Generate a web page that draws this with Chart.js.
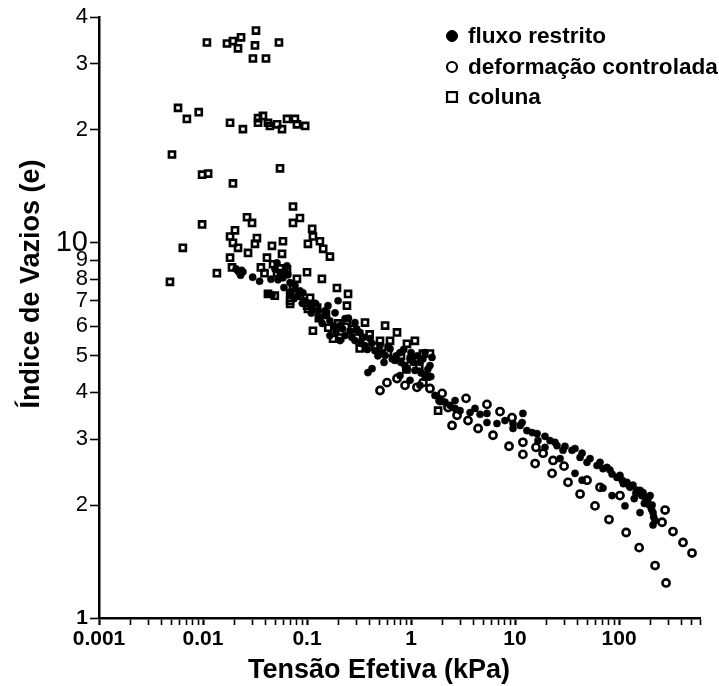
<!DOCTYPE html>
<html><head><meta charset="utf-8">
<script src="https://cdn.jsdelivr.net/npm/chart.js@4.4.1/dist/chart.umd.min.js"></script>
<style>html,body{margin:0;padding:0;background:#fff;}#wrap{position:relative;width:719px;height:686px;}</style>
</head><body><div id="wrap"><canvas id="c" width="719" height="686"></canvas></div>
<script>
const seriesNames = ['fluxo restrito', 'deformação controlada', 'coluna'];

const fluxoRestrito = [
[0.0208,8.52],[0.0217,8.42],[0.0227,8.27],[0.0242,8.37],[0.0230,8.20],[0.0235,8.45],
[0.0492,8.52],[0.0550,8.32],[0.0614,8.42],[0.0526,7.97],[0.0587,8.07],[0.0656,8.22],[0.0686,7.83],[0.0641,8.69],[0.0514,8.85],
[0.0766,7.69],[0.0856,7.45],[0.0818,7.23],[0.0956,7.01],[0.0914,7.36],[0.0422,7.32],[0.0461,7.27],
[0.030,8.10],[0.035,7.90],[0.045,8.00],[0.060,7.60],[0.070,7.40],[0.075,7.10],[0.090,6.90],
[0.107,6.80],[0.128,6.59],[0.149,6.40],[0.166,6.20],[0.186,6.51],[0.208,6.02],[0.232,6.28],[0.259,5.83],[0.289,6.13],[0.133,6.28],[0.159,6.80],[0.199,7.01],[0.232,5.66],[0.289,5.49],[0.323,5.77],[0.361,5.32],[0.403,5.56],[0.450,5.16],[0.503,5.32],[0.562,5.01],[0.628,5.22],[0.701,4.86],[0.783,5.10],[0.875,4.71],[0.978,4.92],[1.09,4.57],[1.22,4.80],[1.36,4.43],[1.52,4.71],[0.422,4.62],[0.385,4.51],[0.783,4.43],[0.978,4.30],[1.22,4.17],[1.36,5.10],[1.59,4.95],[0.166,5.66],[0.208,5.49],
[0.11,6.50],[0.12,6.90],[0.14,6.10],[0.15,6.60],[0.18,6.00],[0.19,5.80],[0.22,5.90],[0.25,6.30],[0.27,5.60],[0.30,5.90],[0.33,5.40],[0.35,5.60],[0.38,5.20],[0.42,5.40],[0.48,5.00],[0.52,5.10],[0.55,4.80],[0.60,5.30],[0.66,4.90],[0.72,5.00],[0.80,4.80],[0.85,5.20],[0.92,4.60],[1.00,5.10],[1.05,4.80],[1.15,5.00],[1.25,4.50],[1.30,4.90],[1.45,4.60],[1.55,4.40],
[1.70,3.92],[1.90,3.80],[2.12,3.76],[2.37,3.69],[2.65,3.80],[2.96,3.57],[3.69,3.53],[4.12,3.62],[4.61,3.49],[5.37,3.51],[5.37,3.32],[6.70,3.30],[8.00,3.36],[9.56,3.30],[9.56,3.20],[11.2,3.26],[11.7,3.32],[11.9,3.51],[13.0,3.16],[14.6,3.12],[16.3,3.10],[16.6,2.97],[19.4,3.05],[21.7,2.97],[24.2,2.94],[25.3,2.88],[28.9,2.80],[30.2,2.87],[35.3,2.80],[37.7,2.83],[42.2,2.68],[44.1,2.75],[49.2,2.60],[52.6,2.66],[61.4,2.55],[65.6,2.60],[70.1,2.50],[76.6,2.52],[81.8,2.48],[85.6,2.42],[95.6,2.37],[102,2.40],[107,2.33],[119,2.30],[128,2.23],[136,2.26],[149,2.19],[159,2.19],[170,2.16],[178,2.10],[190,2.08],[199,2.12],[208,2.00],[212,1.91],[222,1.82],[212,1.77],[159,1.91],[114,1.99],[85.6,2.12],[70.1,2.22],[44.1,2.33],[37.7,2.43],[27.1,2.66],[19.4,2.85],[2.65,3.62],
[110,2.28],[125,2.25],[145,2.15],[165,2.12],[185,2.05],[195,2.00],[205,1.95],[175,2.02],[140,2.08],[215,1.86]
];

const deformacaoControlada = [
[0.503,4.04],[0.587,4.24],[0.733,4.35],[0.875,4.17],[1.14,4.12],[1.30,4.24],[1.52,4.09],[1.99,3.97],[1.90,3.80],[2.27,3.64],[2.77,3.47],[3.38,3.85],[2.48,3.26],[3.53,3.36],[5.37,3.71],[7.17,3.55],[9.35,3.42],[4.41,3.20],[6.14,3.07],[8.75,2.87],[11.9,2.94],[15.9,2.85],[11.9,2.73],[15.6,2.58],[18.6,2.75],[23.2,2.63],[29.6,2.54],[22.7,2.43],[32.3,2.30],[49.2,2.33],[42.2,2.14],[58.7,1.99],[80.0,1.83],[117,1.69],[156,1.54],[222,1.38],[283,1.24],[277,1.94],[259,1.80],[330,1.70],[412,1.59],[503,1.49],[65.6,2.23],[102,2.12]
];

const coluna = [
[0.0109,34.2],[0.0170,34.0],[0.0194,34.5],[0.0217,33.0],[0.0232,35.3],[0.0323,36.8],[0.0316,33.6],[0.0302,31.0],[0.0403,31.0],[0.0537,34.2],
[0.00575,22.9],[0.0070,21.4],[0.0091,22.3],[0.0182,20.9],[0.0242,20.1],[0.0338,21.5],[0.0377,21.8],[0.0338,20.9],[0.0421,20.9],[0.0440,20.5],[0.0515,20.7],[0.0575,20.1],[0.0642,21.4],[0.0765,21.4],[0.0800,20.7],[0.0960,20.5],
[0.00503,17.2],[0.0098,15.2],[0.0112,15.3],[0.0194,14.4],[0.0550,15.8],
[0.0733,12.5],[0.0855,11.65],[0.0733,11.3],[0.0265,11.7],[0.0296,11.3],[0.0098,11.2],[0.0064,9.70],[0.00481,7.87],[0.0136,8.30],[0.0182,10.4],[0.0203,10.8],[0.0194,10.0],[0.0217,9.70],[0.0182,9.13],[0.0190,8.60],[0.0271,9.40],[0.0330,10.3],[0.0316,9.94],[0.0460,9.82],[0.0587,10.1],[0.0412,9.13],[0.0471,8.77],[0.0575,9.35],[0.0550,8.55],[0.0515,8.30],[0.0642,8.50],[0.112,10.9],[0.114,10.4],[0.102,9.94],[0.133,10.1],[0.143,9.64],[0.166,9.19],[0.100,8.35],[0.139,8.02],[0.080,8.02],[0.0733,7.58],[0.0421,7.31],[0.049,7.23],[0.0688,7.35],[0.0855,7.23],[0.0688,7.01],[0.107,7.14],[0.194,7.58],[0.248,7.31],[0.100,6.80],[0.119,6.80],
[0.0688,6.88],[0.102,6.67],[0.125,6.72],[0.152,6.47],[0.114,5.83],[0.160,5.94],[0.208,5.59],[0.178,5.55],[0.242,6.20],[0.242,6.80],[0.361,6.13],[0.563,6.02],[0.302,5.59],[0.321,5.23],[0.503,5.48],[0.628,5.48],[0.733,5.77],[0.914,5.38],[1.09,5.48],[1.30,5.07],[1.52,5.07],
[0.036,8.6],[0.039,8.3],[0.13,6.3],[0.20,6.1],[0.27,5.9],[0.40,5.7],[0.45,5.3],[0.60,5.1],[0.80,5.0],[1.0,4.9],[1.2,4.7],[0.9,4.6],[1.4,4.4],[1.82,3.57]
];

const xTickValues = [0.001, 0.01, 0.1, 1, 10, 100];
const xTickLabels = ['0.001', '0.01', '0.1', '1', '10', '100'];
const yTickValues = [1, 2, 3, 4, 5, 6, 7, 8, 9, 10, 20, 30, 40];
const yTickLabels = ['1', '2', '3', '4', '5', '6', '7', '8', '9', '10', '2', '3', '4'];
const xTitle = 'Tensão Efetiva (kPa)';
const yTitle = 'Índice de Vazios (e)';
const X_MIN = 0.001, X_MAX = 600, Y_MIN = 1, Y_MAX = 40;

const FONT = '"Liberation Sans", Arial, Helvetica, sans-serif';
const toXY = arr => arr.map(p => ({x: p[0], y: p[1]}));
const near = (a, b) => Math.abs(Math.log10(a) - Math.log10(b)) < 1e-6;
function labelOf(values, labels, v) {
  for (let i = 0; i < values.length; i++) if (near(values[i], v)) return labels[i];
  return '';
}
// x axis: decade ticks plus unlabeled minor ticks 2..9 within each decade
const xAllTicks = [];
xTickValues.forEach(d => { for (let m = 1; m <= 9; m++) { const v = +(m * d).toPrecision(6); if (v <= X_MAX * 1.0001) xAllTicks.push(v); } });

const legendPos = [{x: 452, y: 36}, {x: 452, y: 67}, {x: 452, y: 97}];
const legendStyles = [
  {pointStyle: 'circle', radius: 5.5, borderWidth: 1, fill: '#000'},
  {pointStyle: 'circle', radius: 5, borderWidth: 2.2, fill: null},
  {pointStyle: 'rect', radius: 7, borderWidth: 2.2, fill: null}
];

const overlay = {
  id: 'overlay',
  afterDraw(chart) {
    const ctx = chart.ctx;
    ctx.save();
    ctx.fillStyle = '#000';
    ctx.font = 'bold 27px ' + FONT;
    ctx.textAlign = 'center';
    ctx.textBaseline = 'alphabetic';
    ctx.fillText(xTitle, 379, 678);
    ctx.save();
    ctx.translate(39, 284);
    ctx.rotate(-Math.PI / 2);
    ctx.fillText(yTitle, 0, 0);
    ctx.restore();
    chart.data.datasets.forEach((ds, i) => {
      const p = legendPos[i], s = legendStyles[i];
      ctx.strokeStyle = '#000';
      ctx.fillStyle = s.fill || 'rgba(0,0,0,0)';
      ctx.lineWidth = s.borderWidth;
      Chart.helpers.drawPoint(ctx, {pointStyle: s.pointStyle, radius: s.radius, rotation: 0, borderWidth: s.borderWidth}, p.x, p.y);
      ctx.fillStyle = '#000';
      ctx.font = 'bold 22.6px ' + FONT;
      ctx.textAlign = 'left';
      ctx.textBaseline = 'middle';
      ctx.fillText(ds.label, 468, p.y + 1);
    });
    ctx.restore();
  }
};

new Chart(document.getElementById('c'), {
  type: 'scatter',
  data: {
    datasets: [
      {label: seriesNames[0], data: toXY(fluxoRestrito), pointStyle: 'circle', pointRadius: 3.6, pointBorderWidth: 0.5, backgroundColor: '#000', borderColor: '#000', pointHoverRadius: 3.6},
      {label: seriesNames[1], data: toXY(deformacaoControlada), pointStyle: 'circle', pointRadius: 3.6, pointBorderWidth: 2.6, backgroundColor: 'rgba(255,255,255,0)', borderColor: '#000', pointHoverRadius: 3.6},
      {label: seriesNames[2], data: toXY(coluna), pointStyle: 'rect', pointRadius: 4.3, pointBorderWidth: 2.6, backgroundColor: 'rgba(255,255,255,0)', borderColor: '#000', pointHoverRadius: 4.3}
    ]
  },
  options: {
    responsive: false,
    animation: false,
    devicePixelRatio: 1,
    layout: {padding: {top: 17, right: 19, left: 0, bottom: 0}},
    plugins: {legend: {display: false}, tooltip: {enabled: false}, title: {display: false}},
    scales: {
      x: {
        type: 'logarithmic', position: 'bottom', min: X_MIN, max: X_MAX,
        border: {display: true, color: '#000', width: 2.5},
        grid: {display: true, drawOnChartArea: false, drawTicks: true, tickLength: 7, tickColor: '#000',
               tickWidth: ctx => (ctx.tick && xTickValues.some(v => near(v, ctx.tick.value))) ? 2.2 : 1.6},
        afterBuildTicks: s => { s.ticks = xAllTicks.map(v => ({value: v, major: xTickValues.some(d => near(d, v))})); },
        ticks: {autoSkip: false, maxRotation: 0, minRotation: 0, padding: 2, color: '#000',
                font: {family: FONT, size: 21, weight: 'bold'},
                callback: v => labelOf(xTickValues, xTickLabels, v)},
        afterFit: s => { s.height = 68; }
      },
      y: {
        type: 'logarithmic', position: 'left', min: Y_MIN, max: Y_MAX,
        border: {display: true, color: '#000', width: 2.5},
        grid: {display: true, drawOnChartArea: false, drawTicks: true, tickLength: 9, tickColor: '#000', tickWidth: 1.6},
        afterBuildTicks: s => { s.ticks = yTickValues.map(v => ({value: v})); },
        ticks: {autoSkip: false, padding: 2, color: '#000',
                font: ctx => {
                  const v = ctx.tick ? ctx.tick.value : 0;
                  if (near(v, 10)) return {family: FONT, size: 29};
                  if (near(v, 1)) return {family: FONT, size: 21, weight: 'bold'};
                  return {family: FONT, size: 22};
                },
                callback: v => labelOf(yTickValues, yTickLabels, v)},
        afterFit: s => { s.width = 99; }
      }
    }
  },
  plugins: [overlay]
});
</script></body></html>
